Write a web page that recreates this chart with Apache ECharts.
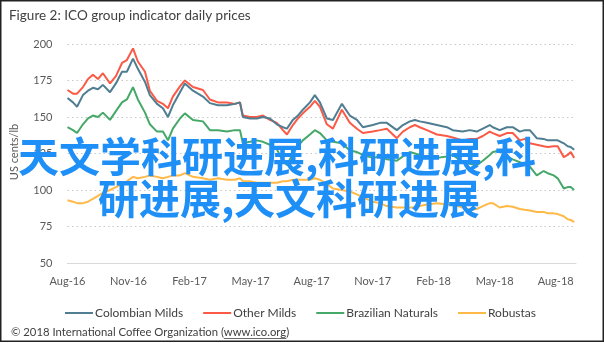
<!DOCTYPE html>
<html>
<head>
<meta charset="utf-8">
<script src="https://cdn.jsdelivr.net/npm/echarts@6/dist/echarts.min.js"></script>
<style>
html,body{margin:0;padding:0;background:#fff;}
#chart{width:604px;height:343px;}
</style>
</head>
<body>
<div id="chart"></div>
<script>
// months after 1 Aug 2016
const monthOffset = [0,0.27,0.47,0.76,1.01,1.25,1.50,1.74,2.09,2.38,2.68,2.92,3.22,3.46,3.81,4.05,4.40,4.69,4.94,5.18,5.53,5.77,6.17,6.66,7.00,7.40,7.84,8.23,8.48,8.62,8.97,9.31,9.61,9.95,10.29,10.59,10.79,11.08,11.33,11.57,11.92,12.16,12.41,12.75,13.05,13.49,13.88,14.23,14.52,15.01,15.36,15.70,16.19,16.49,16.83,17.08,17.32,17.67,18.16,18.65,18.94,19.43,19.78,20.12,20.42,20.76,20.91,21.25,21.60,21.89,22.24,22.48,22.73,23.07,23.41,23.61,23.90,24.10,24.40,24.59,24.74,24.91];
const colombianMilds = [163,160,157,165,168,170,169,172,167,173,181,181,190,183,174,165,159,156,150,158,167,173,168,164,159.5,158,158,159,160,150,149,149,150,149,145,143,142,148,151,155,160,165,160,149,148,159,151,148,143,144.5,146,146,141,144.5,147,148,147,146,144.5,143,141,140,141,140,142,144.5,143,141,143,143,140,141,141,135.5,135,134,134,134,132,130,129.5,127.5];
const otherMilds = [168.5,166,166,170.5,176,179,176,180,173,178,187,189,197,188,181,168,161,159,156,164,171,175,170.5,168.5,162,160,160,159,160,151,150,150,151,148,146,141,138,144.5,149,152.5,157,161,157,145,142,155,146,142,139,140,141,142,135.5,140,143,144.5,143,141,138,137,136,134,135,135,137,140,139,137,139,139,134,135,132,131,130,129.5,130,130,122.5,124,126,122];
const brazilianNaturals = [143,141,139,145,149,151,150,153,148,154,160,162,170.5,162,153,145,140,140,134,142,149,152.5,148,147,141,141,140,141,141,132,133,134,133,131,128,120,117,125,130,134,138,141,139,134,133,132,127,126,124,122,123,121,120,123,126,125,124,123,122,123,124,119,118,117,120,124,126,127,123,121,119,118,116,110,113,111.5,110,108,101,102,102,100];
const robustas = [93,92,91,91,92,94,96,98,100,102,104,106,109,108,109,110,109,108,109,110,110,111.5,109,108,107,108,107,107,108,106,106,105,105,105,105,106,106,107,107,107,107,108,107,104,101,100,99,97,95,92,91,89,88,88,88,88,89,90,91,90,90,88,86.5,87,89,91,91,88,89,88.5,87,86.5,86,85,85,84,84,83.5,82,80,79.5,78];
const tickLabels = ['Aug-16','Nov-16','Feb-17','May-17','Aug-17','Nov-17','Feb-18','May-18','Aug-18'];
const seriesNames = ['Colombian Milds','Other Milds','Brazilian Naturals','Robustas'];
const seriesColors = ['#4f7d91','#fa5a46','#45a868','#ffb947'];
const overlayLines = ['天文学科研进展,科研进展,科','研进展,天文科研进展'];
const footerPrefix = '© 2018 International Coffee Organization (';
const footerLink = 'www.ico.org';
const footerSuffix = ')';

const chart = echarts.init(document.getElementById('chart'), null, {renderer:'canvas'});
const valuesList = [colombianMilds, otherMilds, brazilianNaturals, robustas];
const series = seriesNames.map((name,i)=>({
  name: name,
  type: 'line',
  showSymbol: false,
  symbol: 'none',
  smooth: false,
  z: i===0 ? 4 : (i===1 ? 3 : 2),
  lineStyle: {width: 2, color: seriesColors[i]},
  itemStyle: {color: seriesColors[i]},
  data: monthOffset.map((m,j)=>[m, valuesList[i][j]])
}));

const baseFont = 'Lato, "Liberation Sans", sans-serif';
const cjkFont = '"Noto Sans CJK SC", sans-serif';

// overlay text laid out glyph by glyph (CJK advance = font size, comma narrow)
const overlayStyle = {size: 41, commaAdvance: 13, color: '#1e8ff7'};
const overlayOrigins = [[18, 156], [98, 198]];
const overlayGraphics = [];
overlayLines.forEach((line, li) => {
  let x = overlayOrigins[li][0];
  const y = overlayOrigins[li][1];
  for (const ch of line) {
    overlayGraphics.push({
      type: 'text', x: x, y: y, z: 50,
      style: {text: ch, fontFamily: cjkFont, fontSize: overlayStyle.size, fontWeight: 'bold',
              fill: overlayStyle.color, align: 'left', verticalAlign: 'middle'}
    });
    x += (ch === ',') ? overlayStyle.commaAdvance : overlayStyle.size;
  }
});

// footer with underlined link
const footerSize = 11.3;
const footerX = 11, footerY = 332;
const mctx = document.createElement('canvas').getContext('2d');
mctx.font = footerSize + 'px ' + baseFont;
const prefixW = mctx.measureText(footerPrefix).width;
const linkW = mctx.measureText(footerLink).width;

chart.setOption({
  animation: false,
  backgroundColor: '#ffffff',
  title: {
    text: 'Figure 2: ICO group indicator daily prices',
    left: 4, top: 4,
    textStyle: {fontFamily: baseFont, fontSize: 13.5, fontWeight: 'normal', color: '#404040'}
  },
  grid: {left: 67.5, right: 28, top: 44, bottom: 80},
  xAxis: {
    type: 'value', min: 0, max: 25, interval: 3,
    axisLine: {show: true, lineStyle: {color: '#d9d9d9', width: 1}},
    axisTick: {show: false},
    splitLine: {show: false},
    axisLabel: {
      margin: 13, color: '#595959', fontFamily: baseFont, fontSize: 11,
      formatter: v => (v % 3 === 0 && tickLabels[v/3] !== undefined) ? tickLabels[v/3] : ''
    }
  },
  yAxis: {
    type: 'value', min: 50, max: 200, interval: 25,
    axisLine: {show: false},
    axisTick: {show: false},
    splitLine: {show: true, lineStyle: {color: '#c8c8c8', type: [1.5, 3], width: 1.2}},
    axisLabel: {margin: 15, color: '#595959', fontFamily: baseFont, fontSize: 11}
  },
  legend: {
    data: seriesNames,
    left: 60, top: 302,
    itemWidth: 28, itemHeight: 2, itemGap: 20,
    icon: 'rect',
    textStyle: {fontFamily: baseFont, fontSize: 12, color: '#404040', padding: [0,0,0,-3]}
  },
  graphic: [
    {type: 'rect', shape: {x: 0.75, y: 0.75, width: 602.5, height: 340.5}, style: {fill: 'none', stroke: '#222', lineWidth: 1.5}, z: 100},
    {type: 'text', x: 14, y: 152, rotation: Math.PI/2,
      style: {text: 'US cents/lb', fontFamily: baseFont, fontSize: 11, fill: '#595959', align: 'center', verticalAlign: 'middle'}},
    {type: 'text', x: footerX, y: footerY,
      style: {text: footerPrefix + footerLink + footerSuffix, fontFamily: baseFont, fontSize: footerSize, fill: '#404040', align: 'left', verticalAlign: 'middle'}},
    {type: 'line', shape: {x1: footerX + prefixW, y1: footerY + 6.5, x2: footerX + prefixW + linkW, y2: footerY + 6.5},
      style: {stroke: '#404040', lineWidth: 0.8}}
  ].concat(overlayGraphics),
  series: series
});
</script>
</body>
</html>
